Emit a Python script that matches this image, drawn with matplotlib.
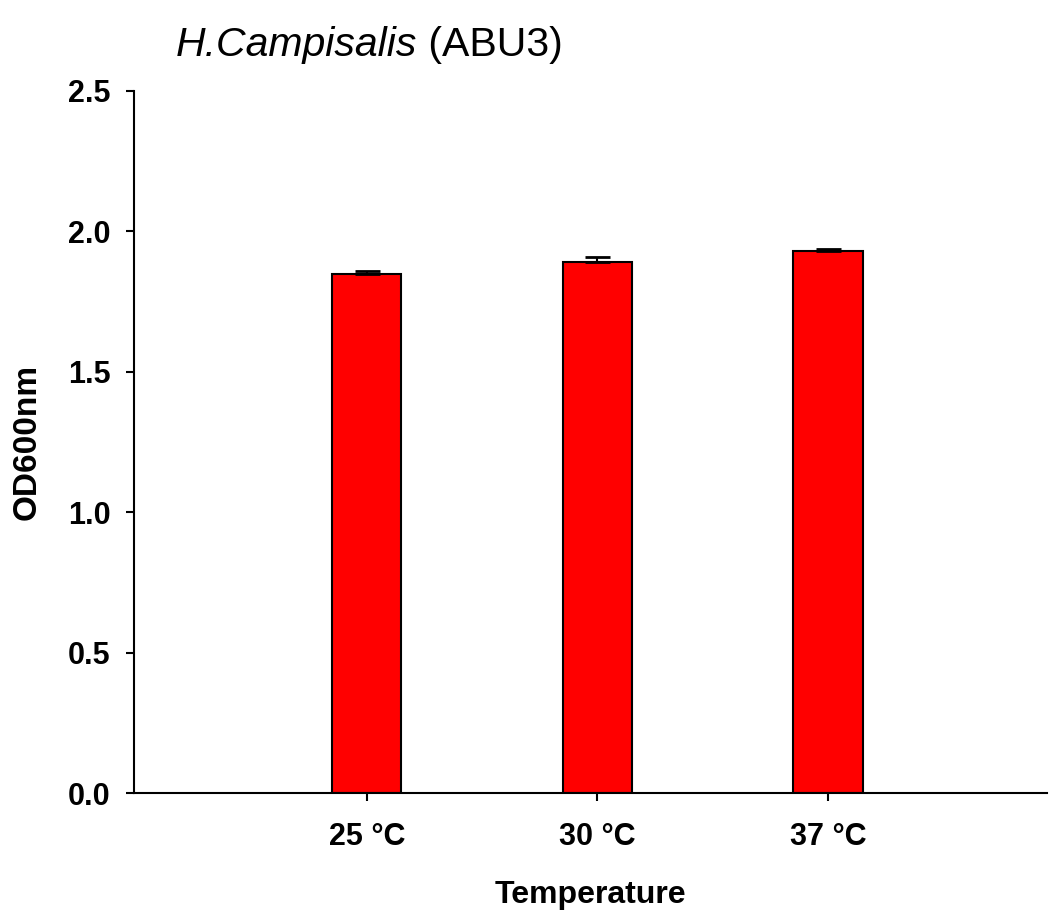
import matplotlib.pyplot as plt
import numpy as np

plt.rcParams['font.family'] = ['Liberation Sans', 'DejaVu Sans']

temps = ['25 °C', '30 °C', '37 °C']
od600 = [1.848, 1.890, 1.929]
od600_err = [0.010, 0.020, 0.008]
y_ticks = [0.0, 0.5, 1.0, 1.5, 2.0, 2.5]

fig = plt.figure(figsize=(10.49, 9.22), dpi=100)
ax = fig.add_axes([134 / 1049, 1 - 793 / 922, (1047 - 134) / 1049, (793 - 91) / 922])

x = np.arange(len(temps))
ax.bar(x, od600, width=0.30, color='#ff0000', edgecolor='black', linewidth=1.5, zorder=2)
ax.errorbar(x, od600, yerr=[np.zeros(len(od600)), od600_err], fmt='none',
            ecolor='black', elinewidth=1.5, capsize=9, capthick=2, zorder=3)

ax.set_xlim(-1.01, 2.95)
ax.set_ylim(0, 2.5)
ax.set_xticks(x)
ax.set_xticklabels(temps, fontsize=22, fontweight='bold')
ax.set_yticks(y_ticks)
ax.set_yticklabels([f'{v:.1f}' for v in y_ticks], fontsize=22, fontweight='bold')
ax.tick_params(axis='both', direction='out', length=6, width=1.5)
ax.tick_params(axis='x', pad=15)
ax.tick_params(axis='y', pad=11)

for side in ['top', 'right']:
    ax.spines[side].set_visible(False)
for side in ['left', 'bottom']:
    ax.spines[side].set_linewidth(1.5)

ax.set_xlabel('Temperature', fontsize=23, fontweight='bold', labelpad=20)
ax.set_ylabel('OD600nm', fontsize=24, fontweight='bold', labelpad=18)

# title: italic species name followed by upright strain id
t1 = fig.text(176 / 1049, 1 - 56 / 922, 'H.Campisalis', fontsize=29.5, style='italic',
              ha='left', va='baseline')
fig.canvas.draw()
bb = t1.get_window_extent()
fig.text(bb.x1 / fig.bbox.width, 1 - 56 / 922, ' (ABU3)', fontsize=29.5,
         ha='left', va='baseline')

fig.savefig('out.png', dpi=100)
